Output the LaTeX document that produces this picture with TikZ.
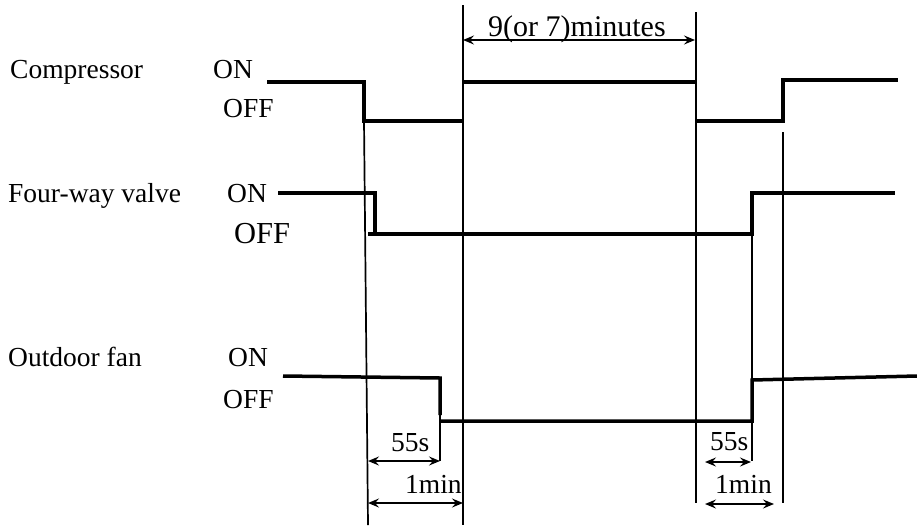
\documentclass[tikz,border=0pt]{standalone}
\usepackage{fontspec}
\setmainfont{Liberation Serif}
\usetikzlibrary{arrows.meta}
\begin{document}
\begin{tikzpicture}[x=1pt,y=-1pt,
  sig/.style={line width=3.5pt, line cap=butt, line join=miter},
  guide/.style={line width=1.7pt},
  dimarrow/.style={line width=1.6pt, {Stealth[length=11pt,width=9pt,inset=4pt]}-{Stealth[length=11pt,width=9pt,inset=4pt]}},
  lbl/.style={anchor=base west, inner sep=0pt, font=\fontsize{27.5}{30}\selectfont},
  biglbl/.style={anchor=base west, inner sep=0pt, font=\fontsize{30.5}{33}\selectfont}]
\useasboundingbox (0,0) rectangle (917,525);

% row labels
\node[lbl] (comp) at (10,78) {Compressor};
\node[lbl] (compon) at (213,78) {ON};
\node[lbl] (compoff) at (223,117) {OFF};
\node[lbl] (valve) at (8,202) {Four-way valve};
\node[lbl] (valveon) at (227,202) {ON};
\node[biglbl] (valveoff) at (234,243) {OFF};
\node[lbl] (fan) at (8,366) {Outdoor fan};
\node[lbl] (fanon) at (228,366) {ON};
\node[lbl] (fanoff) at (223,408) {OFF};

% compressor signal
\draw[sig] (267,82) -- (364,82) -- (364,121) -- (463,121);
\draw[sig] (463,82) -- (695,82);
\draw[sig] (695,121) -- (783,121) -- (783,80) -- (898,80);

% four-way valve signal
\draw[sig] (278,193) -- (375,193) -- (375,234);
\draw[sig] (368,234) -- (752,234) -- (752,193) -- (895,193);

% outdoor fan signal
\draw[sig] (283,376) -- (440,378) -- (440,415);
\draw[sig] (441,421) -- (752,421) -- (752,380) -- (917,376);

% guide lines
\coordinate (g1t) at (364,121); \coordinate (g1b) at (368,525);
\coordinate (g2t) at (463,5);   \coordinate (g2b) at (463,525);
\coordinate (g3t) at (696,12);  \coordinate (g3b) at (696,503);
\coordinate (g4t) at (783,132); \coordinate (g4b) at (783,503);
\coordinate (g5t) at (752,234); \coordinate (g5b) at (752,461);
\coordinate (g6t) at (440,415); \coordinate (g6b) at (440,461);
\draw[guide] (g1t) -- (g1b);
\draw[guide] (g2t) -- (g2b);
\draw[guide] (g3t) -- (g3b);
\draw[guide] (g4t) -- (g4b);
\draw[guide] (g5t) -- (g5b);
\draw[guide] (g6t) -- (g6b);

% dimension arrows
\coordinate (a1l) at (463,40); \coordinate (a1r) at (695,40);
\draw[dimarrow] (a1l) -- (a1r);
\node[anchor=base west, inner sep=0pt, font=\fontsize{30}{33}\selectfont] (t1) at (488,36) {9(or 7)minutes};

\coordinate (a2l) at (368,461); \coordinate (a2r) at (440,461);
\draw[dimarrow] (a2l) -- (a2r);
\node[lbl] (t2) at (391,451) {55s};

\coordinate (a3l) at (368,503); \coordinate (a3r) at (463,503);
\draw[dimarrow] (a3l) -- (a3r);
\node[lbl] (t3) at (405,493) {1min};

\coordinate (a4l) at (705,462); \coordinate (a4r) at (751,462);
\draw[dimarrow] (a4l) -- (a4r);
\node[lbl] (t4) at (710,450) {55s};

\coordinate (a5l) at (705,504); \coordinate (a5r) at (774,504);
\draw[dimarrow] (a5l) -- (a5r);
\node[lbl] (t5) at (715,493) {1min};
\end{tikzpicture}
\end{document}
